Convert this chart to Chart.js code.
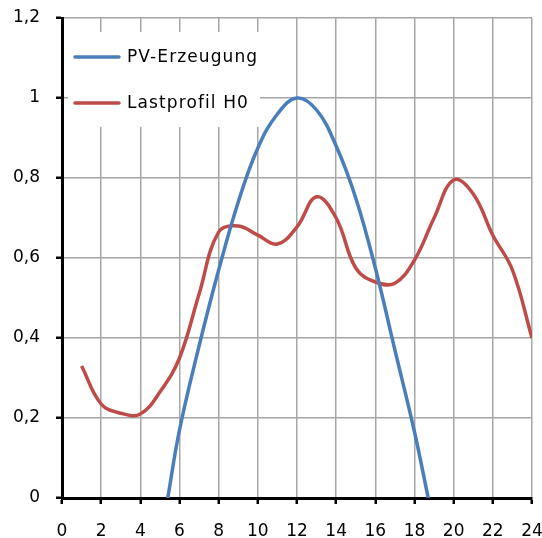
<!DOCTYPE html>
<html>
<head>
<meta charset="utf-8">
<script src="https://cdn.jsdelivr.net/npm/chart.js@4/dist/chart.umd.min.js"></script>
<style>
  html, body { margin: 0; padding: 0; background: #fff; }
  #wrap { width: 542px; height: 538px; }
  canvas { display: block; }
</style>
</head>
<body>
<div id="wrap"><canvas id="chart" width="542" height="538"></canvas></div>
<script>
// PV generation (normalised), hour of day
const pvHours = [5.4, 6, 7, 8, 9, 10, 11, 12, 13, 14, 15, 16, 17, 18, 18.7];
const pvValues = [0, 0.17, 0.38, 0.57, 0.74, 0.875, 0.96, 1.0, 0.97, 0.88, 0.75, 0.575, 0.37, 0.165, 0];

// standard load profile H0 (normalised)
const loadHours = [1, 2, 3, 4, 5, 6, 7, 8, 9, 10, 11, 12, 13, 14, 15, 16, 17, 18, 19, 20, 21, 22, 23, 24];
const loadValues = [0.33, 0.235, 0.212, 0.21, 0.265, 0.35, 0.51, 0.665, 0.68, 0.657, 0.635, 0.678,
                    0.753, 0.70, 0.575, 0.54, 0.537, 0.595, 0.70, 0.795, 0.76, 0.657, 0.57, 0.40];

const seriesNames = ["PV-Erzeugung", "Lastprofil H0"];
const yTickLabels = ["0", "0,2", "0,4", "0,6", "0,8", "1", "1,2"];

const FONT = "DejaVu Sans";

function toPoints(xs, ys) {
  return xs.map((x, i) => ({ x: x, y: ys[i] }));
}

// legend drawn inside the plot area, top left, on a white box over the grid
const innerLegend = {
  id: "innerLegend",
  beforeDatasetsDraw(chart) {
    const ctx = chart.ctx;
    ctx.save();
    ctx.fillStyle = "#fff";
    ctx.fillRect(68, 32, 192, 95);
    ctx.restore();
  },
  afterDatasetsDraw(chart) {
    const ctx = chart.ctx;
    const rows = [57, 103];
    ctx.save();
    chart.data.datasets.forEach((ds, i) => {
      const y = rows[i];
      ctx.strokeStyle = ds.borderColor;
      ctx.lineWidth = ds.borderWidth;
      ctx.lineCap = "round";
      ctx.beginPath();
      ctx.moveTo(75, y);
      ctx.lineTo(119, y);
      ctx.stroke();
      ctx.fillStyle = "#000";
      ctx.font = "17px '" + FONT + "'";
      ctx.letterSpacing = "1.1px";
      ctx.textBaseline = "middle";
      ctx.fillText(ds.label, 127, y + 1);
    });
    ctx.restore();
  },
};

new Chart(document.getElementById("chart"), {
  type: "line",
  data: {
    datasets: [
      {
        label: seriesNames[0],
        data: toPoints(pvHours, pvValues),
        borderColor: "#4a7ebb",
        borderWidth: 3.5,
        pointRadius: 0,
        tension: 0.4,
        fill: false,
      },
      {
        label: seriesNames[1],
        data: toPoints(loadHours, loadValues),
        borderColor: "#be4b48",
        borderWidth: 3.5,
        pointRadius: 0,
        tension: 0.4,
        fill: false,
      },
    ],
  },
  options: {
    responsive: false,
    animation: false,
    layout: { padding: { top: 18, left: 0, right: 10, bottom: 0 } },
    plugins: {
      legend: { display: false },
      tooltip: { enabled: false },
    },
    scales: {
      x: {
        type: "linear",
        min: 0,
        max: 24,
        ticks: {
          stepSize: 2,
          color: "#000",
          padding: 17,
          font: { family: FONT, size: 17 },
          maxRotation: 0,
        },
        grid: {
          color: "#a6a6a6",
          lineWidth: 1.5,
          tickColor: "#000",
          tickLength: 6,
          tickWidth: 2.5,
        },
        border: { color: "#000", width: 3 },
        afterFit(scale) {
          scale.height = 40;
          scale.paddingLeft = 0;
          scale.paddingRight = 0;
        },
      },
      y: {
        min: 0,
        max: 1.2,
        ticks: {
          stepSize: 0.2,
          color: "#000",
          padding: 16,
          font: { family: FONT, size: 17 },
          callback: (value, index) => yTickLabels[index],
        },
        grid: {
          color: "#a6a6a6",
          lineWidth: 1.5,
          tickColor: "#000",
          tickLength: 6,
          tickWidth: 2.5,
        },
        border: { color: "#000", width: 3 },
        afterFit(scale) {
          scale.width = 62;
          scale.paddingTop = 0;
          scale.paddingBottom = 0;
        },
      },
    },
  },
  plugins: [innerLegend],
});
</script>
</body>
</html>
